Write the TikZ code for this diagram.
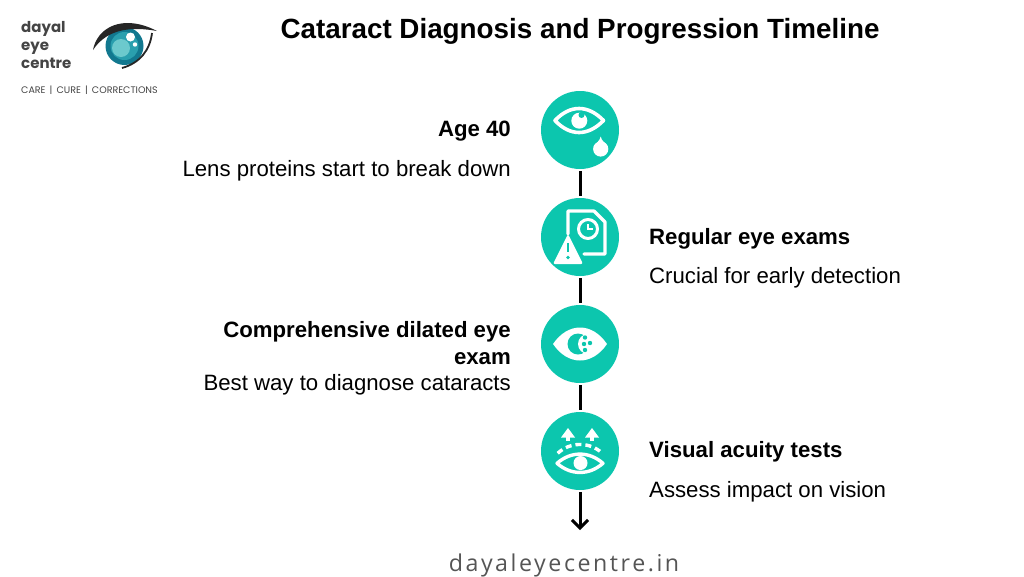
\documentclass[tikz,border=0pt]{standalone}
\usepackage{fontspec}
\setmainfont{Liberation Sans}
\newfontfamily\logofont{Poppins}
\newfontfamily\sitefont[LetterSpace=11]{Open Sans}
\usetikzlibrary{positioning}
\usetikzlibrary{arrows.meta}
\definecolor{stepteal}{HTML}{0CC6AE}
\definecolor{logoteal}{HTML}{12788F}
\definecolor{logomid}{HTML}{2A9FAE}
\definecolor{logolight}{HTML}{6CC9CD}
\definecolor{logogrey}{HTML}{444444}
\definecolor{sitegrey}{HTML}{555555}
\tikzset{
  stepdot/.style={on grid,circle,fill=stepteal,minimum size=78pt,inner sep=0pt,outer sep=2pt},
  headtext/.style={inner sep=0pt,font=\fontsize{22.2}{27}\selectfont\bfseries,align=right},
  bodytext/.style={inner sep=0pt,font=\fontsize{22.2}{27}\selectfont},
  timeline/.style={line width=3pt,black},
  iconline/.style={white,line width=3.6pt,line cap=round,line join=round},
  logotext/.style={inner sep=0pt,text=logogrey,font=\fontsize{15}{18}\logofont\bfseries,align=left}
}
\begin{document}
\begin{tikzpicture}[x=1pt,y=-1pt,node distance=107pt]
\useasboundingbox (0,0) rectangle (1024,576);
\node[inner sep=0pt,font=\fontsize{27.8}{32}\selectfont\bfseries] (title) at (580,31) {Cataract Diagnosis and Progression Timeline};
% logo
\node[logotext,anchor=west] (logoname) at (21,45) {dayal\\eye\\centre};
\node[inner sep=0pt,anchor=west,text=logogrey,font=\fontsize{9.5}{11}\logofont] (logotag) at (21,90.5) {CARE\ \,|\ \,CURE\ \,|\ \,CORRECTIONS};
\node[circle,fill=logoteal,minimum size=38pt,inner sep=0pt] (logoeye) at (124.5,46) {};
\fill[logomid] (logoeye) circle (14);
\fill[logolight] (121,48) circle (9);
\fill[white] (130.5,37) circle (4.5) (135,44.5) circle (2.2);
\fill[black!85] (93,50) .. controls (97,28) and (122,13) .. (157,31) .. controls (135,27) and (108,27) .. (93,50) -- cycle;
\draw[black!85,line width=1.8pt] (152,33) .. controls (150,50) and (140,63) .. (122,68);
% steps
\node[stepdot] (age) at (580,130) {};
\node[stepdot,below=of age] (exams) {};
\node[stepdot,below=of exams] (dilated) {};
\node[stepdot,below=of dilated] (acuity) {};
\coordinate (arrowend) at (580,530);
\draw[timeline] (age) -- (exams);
\draw[timeline] (exams) -- (dilated);
\draw[timeline] (dilated) -- (acuity);
\draw[timeline,-{Straight Barb[length=8pt,width=16pt]}] (acuity) -- (arrowend);
% icon 1
\begin{scope}[shift={(age)}]
  \draw[iconline] (-25,-9.5) .. controls (-10,-25.5) and (8,-25.5) .. (23.5,-9.5) .. controls (8,6.5) and (-10,6.5) .. (-25,-9.5) -- cycle;
  \fill[white] (-0.7,-9.3) circle (8);
  \fill[stepteal] (1.5,-15) circle (3);
  \fill[white] (20.7,19) circle (7.6);
  \fill[white] (20.7,6.5) .. controls (21.5,11) and (25.5,13) .. (27.8,16.5) -- (13.6,16.5) .. controls (15.9,13) and (19.9,11) .. (20.7,6.5) -- cycle;
\end{scope}
% icon 2
\begin{scope}[shift={(exams)}]
  \draw[iconline,line width=3.2pt] (-12,-3) -- (-12,-26) -- (14,-26) -- (25,-15) -- (25,17) -- (4,17);
  \draw[iconline,line width=3pt] (8,-8) circle (9.5);
  \draw[white,line width=2.2pt] (8,-13) -- (8,-8) -- (13,-8);
  \fill[white,rounded corners=2pt] (-12,-3) -- (3,27) -- (-27,27) -- cycle;
  \draw[stepteal,line width=2.8pt] (-12,6) -- (-12,15);
  \fill[stepteal] (-12,20.5) circle (1.8);
\end{scope}
% icon 3
\begin{scope}[shift={(dilated)}]
  \fill[white] (-27,0) .. controls (-12,-22) and (12,-22) .. (27,0) .. controls (12,22) and (-12,22) .. (-27,0) -- cycle;
  \fill[stepteal] (-2,0) circle (10.5);
  \fill[white] (8,0) circle (10);
  \fill[stepteal] (5,-6.5) circle (2.2) (4,0) circle (2.2) (10,-1) circle (2.2) (5,6) circle (2.2);
\end{scope}
% icon 4
\begin{scope}[shift={(acuity)}]
  \draw[white,line width=4.5pt] (-12,-10) -- (-12,-15);
  \draw[white,line width=4.5pt] (12,-10) -- (12,-15);
  \fill[white] (-12,-23) -- (-5,-13.5) -- (-19,-13.5) -- cycle;
  \fill[white] (12,-23) -- (19,-13.5) -- (5,-13.5) -- cycle;
  \draw[white,line width=3.4pt,dash pattern=on 6pt off 4pt] (-22.3,2.3) .. controls (-10,-9.5) and (10,-9.5) .. (22.3,2.3);
  \draw[iconline,line width=3.4pt] (-23,12.3) .. controls (-9,0) and (9,0) .. (23,12.3) .. controls (9,24.5) and (-9,24.5) .. (-23,12.3) -- cycle;
  \fill[white] (0.5,12) circle (7);
\end{scope}
% texts
\node[headtext,anchor=east] (agehead) at (511,131.5) {Age 40};
\node[bodytext,anchor=east] (agebody) at ([yshift=-39pt]agehead.east) {Lens proteins start to break down};
\node[headtext,anchor=west] (examshead) at (649,238.5) {Regular eye exams};
\node[bodytext,anchor=west] (examsbody) at ([yshift=-39pt]examshead.west) {Crucial for early detection};
\node[headtext,anchor=east] (dilatedhead) at (511,343) {Comprehensive dilated eye\\exam};
\node[bodytext,anchor=east] (dilatedbody) at ([yshift=-42pt]dilatedhead.east) {Best way to diagnose cataracts};
\node[headtext,anchor=west] (acuityhead) at (649,451.5) {Visual acuity tests};
\node[bodytext,anchor=west] (acuitybody) at ([yshift=-40pt]acuityhead.west) {Assess impact on vision};
\node[inner sep=0pt,text=sitegrey,font=\fontsize{23.2}{28}\sitefont] (site) at (564,565) {dayaleyecentre.in};
\end{tikzpicture}
\end{document}
